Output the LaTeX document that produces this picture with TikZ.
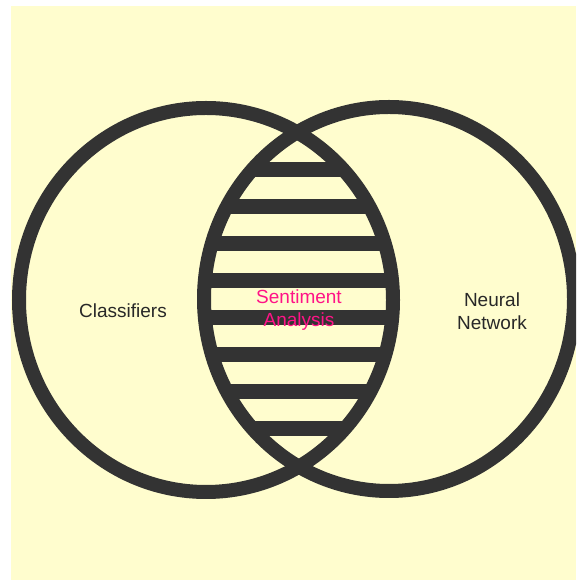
\documentclass[tikz,border=0pt]{standalone}
\usepackage{fontspec}
\setmainfont{Liberation Sans}
\usepackage{xcolor}
\usepackage{tikz}
\usetikzlibrary{calc,positioning}
\definecolor{vennPaper}{RGB}{255,253,206}
\definecolor{vennInk}{RGB}{51,51,51}
\definecolor{vennPink}{RGB}{255,20,135}
\definecolor{vennText}{RGB}{40,40,40}

\begin{document}
\begin{tikzpicture}[x=1pt,y=1pt,
  lbl/.style={align=center, inner sep=0pt, font=\fontsize{19}{22.5}\selectfont}]
\useasboundingbox (0,0) rectangle (576,580);
\fill[white] (0,0) rectangle (576,580);
\fill[vennPaper] (11,0) rectangle (576,574);

\begin{scope}
\clip (11,0) rectangle (576,574);
% stripes in the overlap
\begin{scope}
\clip (206,280) ellipse [x radius=187, y radius=192];
\clip (389,281) ellipse [x radius=185, y radius=192];
\foreach \yy in {151,188,...,410}
  \fill[vennInk] (180,\yy-7.5) rectangle (420,\yy+7.5);
\end{scope}
\draw[vennInk, line width=14pt] (206,280) ellipse [x radius=187, y radius=192];
\draw[vennInk, line width=14pt] (389,281) ellipse [x radius=185, y radius=192];
\end{scope}

\node[lbl, text=vennText] (classif) at (123,269) {Classifiers};
\node[lbl, text=vennPink] (sentim) at (299,270) {Sentiment\\Analysis};
\node[lbl, text=vennText] (neural) at (492,269) {Neural\\Network};
\end{tikzpicture}
\end{document}
